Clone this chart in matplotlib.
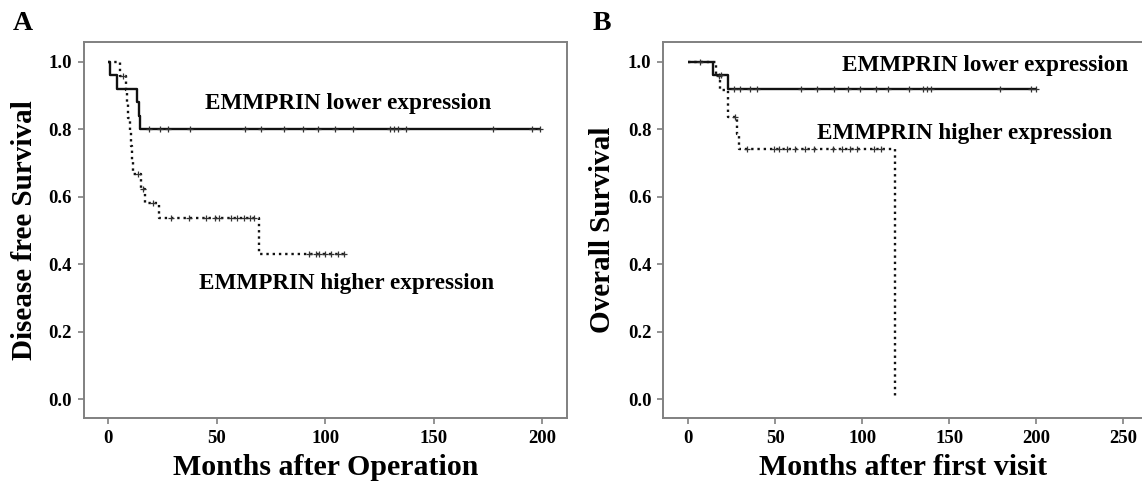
import numpy as np
import matplotlib
matplotlib.use("Agg")
import matplotlib.pyplot as plt

plt.rcParams['font.family'] = ['Liberation Serif', 'DejaVu Serif']
plt.rcParams['font.weight'] = 'bold'

# Panel A: disease free survival (step times -> level after step)
a_low_t = [1.0, 4.0, 13.0, 14.0, 14.6]
a_low_s = [0.96, 0.92, 0.88, 0.84, 0.80]
a_low_end = 199.3
a_low_cens = [18.7, 23.8, 27.4, 37.7, 63.1, 70.6, 81.2, 89.6, 96.7, 104.6,
              112.6, 129.7, 131.5, 133.5, 137.0, 177.5, 195.2, 198.8]

a_high_t = [5.5, 8.0, 8.8, 9.3, 9.8, 10.4, 11.0, 11.6, 14.9, 16.9, 23.2, 69.6]
a_high_s = [0.958, 0.917, 0.875, 0.833, 0.792, 0.75, 0.708, 0.667, 0.623,
            0.582, 0.537, 0.43]
a_high_end = 109.0
a_high_cens = [6.7, 13.6, 16.1, 20.7, 29.0, 37.0, 45.0, 49.0, 51.0, 56.5,
               59.5, 62.5, 65.3, 67.2, 92.3, 95.8, 97.2, 99.8, 102.5, 105.7, 108.7]

# Panel B: overall survival
b_low_t = [14.4, 22.8]
b_low_s = [0.96, 0.92]
b_low_end = 200.5
b_low_cens = [6.5, 18.8, 26.0, 29.5, 35.5, 39.5, 64.5, 73.8, 84.0, 92.0, 98.7,
              108.0, 115.0, 127.0, 135.0, 137.0, 139.5, 179.3, 197.0, 199.6]

b_high_t = [16.0, 18.5, 22.7, 27.8, 29.1, 118.8]
b_high_s = [0.958, 0.917, 0.837, 0.785, 0.74, 0.0]
b_high_end = 118.8
b_high_cens = [17.5, 26.8, 33.5, 49.0, 52.0, 56.5, 61.5, 67.0, 72.0, 83.0,
               88.5, 93.0, 97.0, 106.5, 110.5]

yticks = [0.0, 0.2, 0.4, 0.6, 0.8, 1.0]

W, H = 1142, 484
fig = plt.figure(figsize=(W / 100, H / 100), dpi=100)

axA = fig.add_axes([83.5 / W, 1 - 418 / H, (567 - 83.5) / W, (418 - 42.3) / H])
axB = fig.add_axes([663.3 / W, 1 - 418 / H, (1143 - 663.3) / W, (418 - 42.3) / H])


def draw_curve(ax, times, levels, end, cens, style, lw):
    t = [0.0] + list(times) + [end]
    s = [1.0] + list(levels) + [levels[-1]]
    ax.step(t, s, where='post', color='#111111', linestyle=style, lw=lw,
            solid_capstyle='butt')
    idx = np.searchsorted(np.array(t), np.array(cens), side='right') - 1
    cy = np.array(s)[idx]
    ax.plot(cens, cy, linestyle='none', marker='+', ms=5, mew=0.9,
            color='#333333')


def style_axes(ax, xlim, xticks):
    ax.set_xlim(*xlim)
    ax.set_ylim(-0.0554, 1.0575)
    ax.set_xticks(xticks)
    ax.set_yticks(yticks)
    ax.set_yticklabels([f"{v:.1f}" for v in yticks])
    for sp in ax.spines.values():
        sp.set_color('#808080')
        sp.set_linewidth(1.4)
    ax.tick_params(direction='out', length=4.5, width=1.2, color='#808080',
                   labelsize=13.5, pad=4)
    for lab in ax.get_xticklabels() + ax.get_yticklabels():
        lab.set_fontweight('bold')


draw_curve(axA, a_high_t, a_high_s, a_high_end, a_high_cens, ':', 1.7)
draw_curve(axA, a_low_t, a_low_s, a_low_end, a_low_cens, '-', 1.7)
style_axes(axA, (-11.43, 211.4), [0, 50, 100, 150, 200])
axA.text(110.5, 0.875, "EMMPRIN lower expression", fontsize=16.7,
         fontweight='bold', ha='center', va='center')
axA.text(110.0, 0.342, "EMMPRIN higher expression", fontsize=16.7,
         fontweight='bold', ha='center', va='center')
axA.set_xlabel("Months after Operation", fontsize=21.5, fontweight='bold', va='center')
axA.xaxis.set_label_coords(0.5, -0.133)
axA.set_ylabel("Disease free Survival", fontsize=21, fontweight='bold', va='center')
axA.yaxis.set_label_coords(-0.121, 0.5)

draw_curve(axB, b_high_t, b_high_s, b_high_end, b_high_cens, ':', 1.7)
draw_curve(axB, b_low_t, b_low_s, b_low_end, b_low_cens, '-', 1.7)
style_axes(axB, (-14.37, 261.3), [0, 50, 100, 150, 200, 250])
axB.text(170.5, 0.988, "EMMPRIN lower expression", fontsize=16.7,
         fontweight='bold', ha='center', va='center')
axB.text(159.0, 0.786, "EMMPRIN higher expression", fontsize=16.7,
         fontweight='bold', ha='center', va='center')
axB.set_xlabel("Months after first visit", fontsize=21.5, fontweight='bold', va='center')
axB.xaxis.set_label_coords(0.5, -0.133)
axB.set_ylabel("Overall Survival", fontsize=21, fontweight='bold', va='center')
axB.yaxis.set_label_coords(-0.126, 0.5)

fig.text(23 / W, 1 - 23 / H, "A", fontsize=20, fontweight='bold', ha='center', va='center')
fig.text(602 / W, 1 - 23 / H, "B", fontsize=20, fontweight='bold', ha='center', va='center')

fig.savefig("out.png", dpi=100)
